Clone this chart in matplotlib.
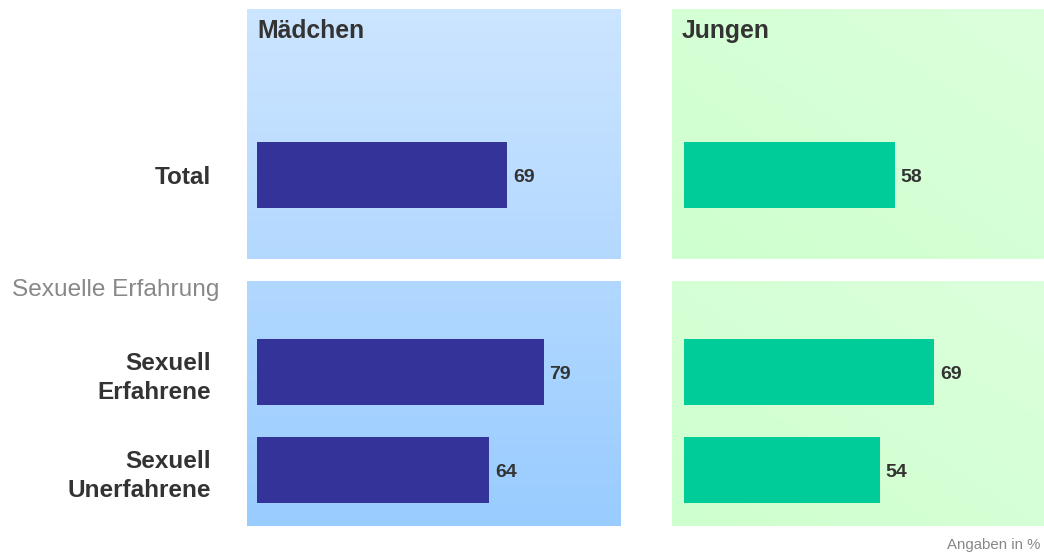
import matplotlib.pyplot as plt
import numpy as np

plt.rcParams['font.family'] = ['Liberation Sans', 'DejaVu Sans']

# values in percent
groups = ['Mädchen', 'Jungen']
total = [69, 58]
erfahrene = [79, 69]
unerfahrene = [64, 54]
row_labels_top = ['Total']
row_labels_bottom = ['Sexuell\nErfahrene', 'Sexuell\nUnerfahrene']
bar_colors = ['#333399', '#00cc99']

W, H = 1044, 555
PX_PER_UNIT = 3.63
fig = plt.figure(figsize=(W / 100, H / 100), dpi=100)


def box(x0, y0, x1, y1):
    # pixel box (top-left origin) -> figure fraction rect
    return [x0 / W, 1 - y1 / H, (x1 - x0) / W, (y1 - y0) / H]


def blue_grad(ax, ya, yb):
    # vertical gradient shared by both Mädchen panels (y from 9 to 526 px)
    top = np.array([204, 229, 255]) / 255
    bot = np.array([153, 204, 255]) / 255
    t = np.linspace((ya - 9) / 517, (yb - 9) / 517, 100)[:, None]
    img = (top * (1 - t) + bot * t)[:, None, :]
    ax.imshow(img, extent=[0, 1, 0, 1], transform=ax.transAxes,
              aspect='auto', zorder=0)


def green_grad(ax):
    # soft diagonal gradient, darker toward lower left
    light = np.array([220, 255, 220]) / 255
    dark = np.array([206, 255, 206]) / 255
    yy, xx = np.mgrid[0:1:60j, 0:1:60j]
    t = np.clip(1 - (xx + (1 - yy)) / 2, 0, 1)[..., None]
    img = light * (1 - t) + dark * t
    ax.imshow(img, extent=[0, 1, 0, 1], transform=ax.transAxes,
              aspect='auto', zorder=0)


# panel left/right edges and bar start offset, in pixels
panels = {
    'Mädchen': (247, 621, 10),
    'Jungen': (672, 1044, 12),
}

for i, g in enumerate(groups):
    x0, x1, off = panels[g]
    xmin = -off / PX_PER_UNIT
    xmax = xmin + (x1 - x0) / PX_PER_UNIT

    ax_top = fig.add_axes(box(x0, 9, x1, 259))
    ax_bot = fig.add_axes(box(x0, 281, x1, 526))

    if i == 0:
        blue_grad(ax_top, 9, 259)
        blue_grad(ax_bot, 281, 526)
    else:
        green_grad(ax_top)
        green_grad(ax_bot)

    top_vals = [total[i]]
    bot_vals = [erfahrene[i], unerfahrene[i]]

    ax_top.barh([0], top_vals, height=0.68, color=bar_colors[i], zorder=2)
    ax_bot.barh([0, 1], bot_vals, height=0.68, color=bar_colors[i], zorder=2)

    # both panels run top-down
    ax_top.set_ylim(0.857, -1.694)
    ax_bot.set_ylim(1.571, -0.929)

    for ax, vals in ((ax_top, top_vals), (ax_bot, bot_vals)):
        ax.set_xlim(xmin, xmax)
        for k, v in enumerate(vals):
            ax.text(v + 1.6, k + 0.025, str(v), va='center', ha='left',
                    fontsize=14, fontweight='bold', color='#333333', zorder=3)
        for s in ax.spines.values():
            s.set_visible(False)
        ax.set_xticks([])
        ax.tick_params(axis='y', length=0, pad=26)

    if i == 0:
        ax_top.set_yticks([0], row_labels_top)
        ax_bot.set_yticks([0, 1], row_labels_bottom)
        for ax in (ax_top, ax_bot):
            for lab in ax.get_yticklabels():
                lab.set_fontsize(17.5)
                lab.set_fontweight('bold')
                lab.set_color('#333333')
                lab.set_horizontalalignment('right')
                lab.set_linespacing(1.38)
    else:
        ax_top.set_yticks([])
        ax_bot.set_yticks([])

    fig.text((x0 + 10) / W, 1 - 31 / H, g, fontsize=17.8, fontweight='bold',
             color='#333333', va='center', ha='left')

fig.text(12 / W, 1 - 290 / H, 'Sexuelle Erfahrung', fontsize=17.6,
         color='#888888', va='center', ha='left')
fig.text(1040 / W, 1 - 545 / H, 'Angaben in %', fontsize=10.8,
         color='#888888', va='center', ha='right')

fig.savefig('out.png', dpi=100, facecolor='white')
